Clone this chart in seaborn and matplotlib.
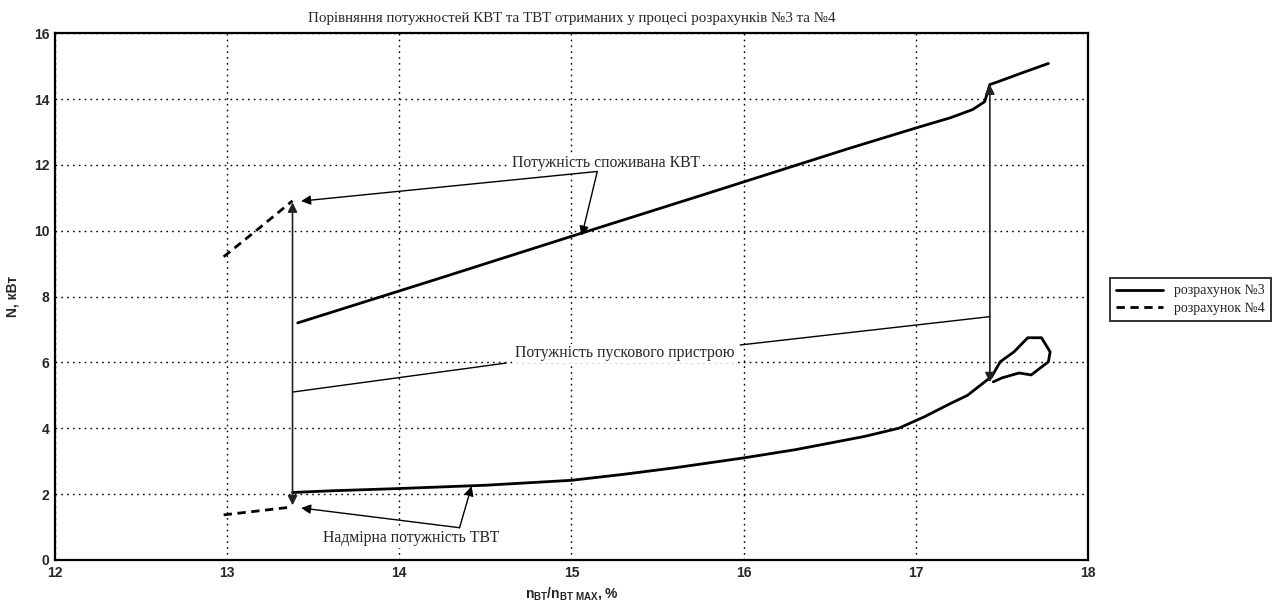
import matplotlib
matplotlib.use("Agg")
import matplotlib.pyplot as plt
import seaborn as sns
import pandas as pd

# Calculation No.3: consumed power (upper branch) and turbine power (lower branch with loop)
calc3_upper_x = [13.41, 14.2, 15.0, 15.8, 16.6, 17.0, 17.2, 17.33, 17.40,
                 17.43, 17.48, 17.62, 17.77]
calc3_upper_y = [7.2, 8.5, 9.83, 11.15, 12.48, 13.12, 13.43, 13.68, 13.92,
                 14.44, 14.53, 14.8, 15.08]
calc3_lower_x = [13.38, 13.6, 14.0, 14.5, 15.0, 15.3, 15.6, 16.0, 16.3, 16.55, 16.7, 16.9, 17.05,
                 17.2, 17.3, 17.41, 17.44, 17.49, 17.57, 17.65, 17.73, 17.78, 17.77, 17.67, 17.6,
                 17.5, 17.45]
calc3_lower_y = [2.05, 2.1, 2.17, 2.27, 2.42, 2.6, 2.8, 3.1, 3.35, 3.6, 3.75, 4.0, 4.35,
                 4.75, 5.0, 5.45, 5.56, 6.02, 6.32, 6.75, 6.75, 6.32, 6.02, 5.62, 5.68,
                 5.53, 5.41]

# Calculation No.4: short segments at the start of the range
calc4_upper_x = [12.98, 13.18, 13.38]
calc4_upper_y = [9.21, 10.05, 10.91]
calc4_lower_x = [12.98, 13.23, 13.38]
calc4_lower_y = [1.37, 1.52, 1.61]

series_labels = ["розрахунок №3", "розрахунок №4"]
title_text = "Порівняння потужностей КВТ та ТВТ отриманих у процесі розрахунків №3 та №4"
note_consumed = "Потужність споживана КВТ"
note_starter = "Потужність пускового пристрою"
note_excess = "Надмірна потужність ТВТ"
x_ticks = [12, 13, 14, 15, 16, 17, 18]
y_ticks = [0, 2, 4, 6, 8, 10, 12, 14, 16]

sns.set_style("white")
plt.rcParams["font.family"] = ["Liberation Sans", "DejaVu Sans"]
plt.rcParams["mathtext.fontset"] = "custom"
plt.rcParams["mathtext.rm"] = "Liberation Sans"
plt.rcParams["mathtext.it"] = "Liberation Sans"
plt.rcParams["mathtext.bf"] = "Liberation Sans:bold"

fig = plt.figure(figsize=(12.77, 6.0), dpi=100)
ax = fig.add_axes([0.043, 0.0667, 0.809, 0.878])

segments = [
    (calc3_upper_x, calc3_upper_y, series_labels[0], "-"),
    (calc3_lower_x, calc3_lower_y, None, "-"),
    (calc4_upper_x, calc4_upper_y, series_labels[1], (0, (3, 2))),
    (calc4_lower_x, calc4_lower_y, None, (0, (3, 2))),
]
for xs, ys, lab, ls in segments:
    df = pd.DataFrame({"x": xs, "y": ys})
    sns.lineplot(data=df, x="x", y="y", ax=ax, sort=False, estimator=None,
                 color="black", lw=2.0, linestyle=ls, label=lab)

ax.set_xlim(12, 18)
ax.set_ylim(0, 16)
ax.set_xticks(x_ticks)
ax.set_yticks(y_ticks)
ax.tick_params(direction="in", length=5, width=1.2, labelsize=10, pad=4)
for lbl in ax.get_xticklabels() + ax.get_yticklabels():
    lbl.set_fontweight("bold")
ax.grid(True, color="black", linestyle=(0, (1.2, 3)), linewidth=1.0)
for sp in ax.spines.values():
    sp.set_color("black")
    sp.set_linewidth(1.6)

ax.set_xlabel(r"$\mathregular{n_{BT}/n_{BT\ MAX}}$, %", fontsize=10, fontweight="bold", labelpad=4)
ax.set_ylabel("N, кВт", fontsize=10, fontweight="bold", labelpad=10)
ax.set_title(title_text, fontsize=10.8, family="Liberation Serif", pad=8)

serif = "Liberation Serif"
note_size = 11.3
arrow_kw = dict(arrowstyle="-|>", color="black", lw=1.0, mutation_scale=14, shrinkA=0, shrinkB=0)
both_kw = dict(arrowstyle="<|-|>", color="#222222", lw=1.2, mutation_scale=14, shrinkA=0, shrinkB=0)

# Vertical spans between the two calculations
ax.annotate("", xy=(calc4_upper_x[-1], calc4_upper_y[-1] - 0.05),
            xytext=(calc4_lower_x[-1], calc4_lower_y[-1] + 0.05), arrowprops=both_kw)
ax.annotate("", xy=(17.43, 14.44), xytext=(17.43, 5.4), arrowprops=both_kw)

# Consumed power callout
ax.text(15.2, 12.05, note_consumed, fontsize=note_size, family=serif, ha="center", va="center",
        bbox=dict(facecolor="white", edgecolor="none", pad=1))
ax.annotate("", xy=(13.43, 10.9), xytext=(15.15, 11.8), arrowprops=arrow_kw)
ax.annotate("", xy=(15.06, 9.85), xytext=(15.15, 11.8), arrowprops=arrow_kw)

# Starter power callout
ax.text(15.31, 6.28, note_starter, fontsize=note_size, family=serif, ha="center", va="center",
        bbox=dict(facecolor="white", edgecolor="none", pad=1))
ax.plot([13.38, 14.62], [5.1, 5.98], color="black", lw=1.0)
ax.plot([15.98, 17.43], [6.53, 7.39], color="black", lw=1.0)

# Excess turbine power callout
ax.text(14.07, 0.66, note_excess, fontsize=note_size, family=serif, ha="center", va="center",
        bbox=dict(facecolor="white", edgecolor="none", pad=1))
ax.annotate("", xy=(13.43, 1.58), xytext=(14.35, 0.98), arrowprops=arrow_kw)
ax.annotate("", xy=(14.42, 2.24), xytext=(14.35, 0.98), arrowprops=arrow_kw)

leg = ax.legend(loc="upper left", bbox_to_anchor=(1.021, 0.535), borderaxespad=0,
                prop={"family": serif, "size": 10}, frameon=True, fancybox=False,
                edgecolor="black", handlelength=3.4, borderpad=0.45, labelspacing=0.3)
leg.get_frame().set_linewidth(1.4)
for h in leg.get_lines():
    h.set_linewidth(2.0)

fig.savefig("out.png", dpi=100, facecolor="white")
